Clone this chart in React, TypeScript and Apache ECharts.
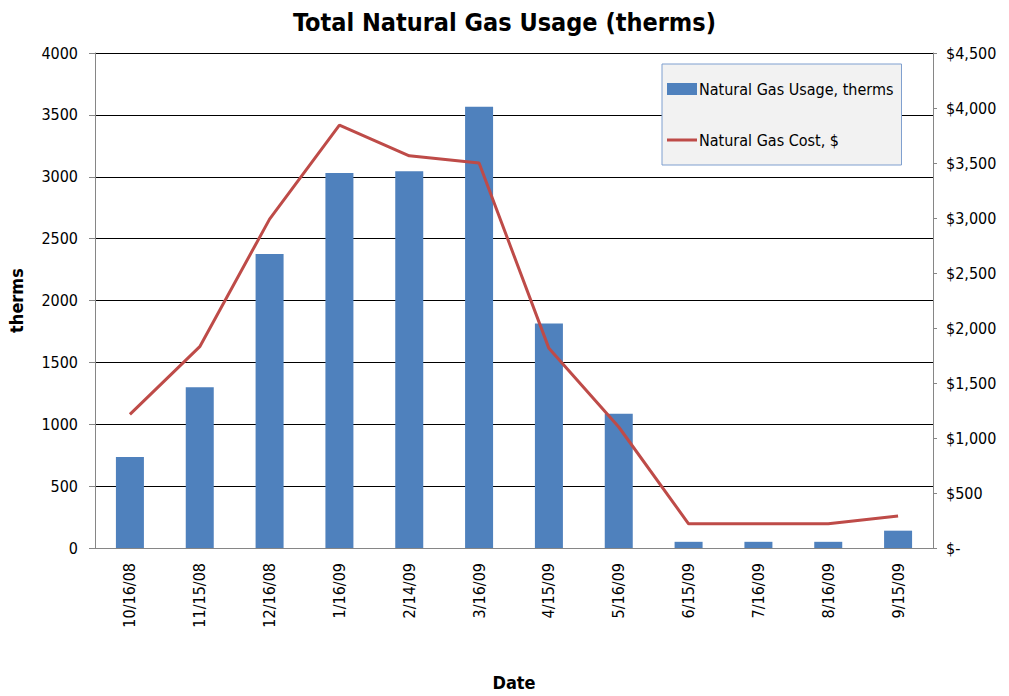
import React, { useEffect, useRef } from "react";
import * as echarts from "echarts";

const categories = ["10/16/08", "11/15/08", "12/16/08", "1/16/09", "2/14/09", "3/16/09", "4/15/09", "5/16/09", "6/15/09", "7/16/09", "8/16/09", "9/15/09"];
const usageTherms = [735, 1300, 2375, 3030, 3045, 3565, 1815, 1085, 50, 50, 50, 140];
const costDollars = [1215, 1830, 2990, 3845, 3565, 3500, 1815, 1100, 220, 220, 220, 290];

const FONT = "'Liberation Sans Narrow', 'DejaVu Sans Condensed', 'Open Sans', sans-serif";

export default function App() {
  const ref = useRef<HTMLDivElement>(null);
  useEffect(() => {
    document.body.style.margin = "0";
    const chart = echarts.init(ref.current!, null, { renderer: "svg" });
    chart.setOption({
      animation: false,
      backgroundColor: "#ffffff",
      textStyle: { fontFamily: FONT },
      title: {
        text: "Total Natural Gas Usage (therms)",
        left: "center",
        top: 5,
        textStyle: { fontFamily: FONT, fontSize: 25, fontWeight: "bold", color: "#000" },
      },
      legend: {
        orient: "vertical",
        left: 662,
        top: 64,
        width: 239,
        padding: [17, 8, 17, 5],
        itemGap: 35,
        backgroundColor: "#f2f2f2",
        borderColor: "#7f9fcf",
        borderWidth: 1,
        itemWidth: 30,
        itemHeight: 12,
        textStyle: { fontFamily: FONT, fontSize: 16, color: "#000", padding: [0, 0, 0, -3] },
        data: [
          { name: "Natural Gas Usage, therms", icon: "rect" },
          { name: "Natural Gas Cost, $", icon: "path://M0,0 L30,0 L30,3 L0,3 Z" },
        ],
      },
      grid: { left: 95, right: 76, top: 53, bottom: 148, outerBoundsMode: "none" },
      xAxis: {
        type: "category",
        data: categories,
        name: "Date",
        nameLocation: "middle",
        nameGap: 125,
        nameTextStyle: { fontFamily: FONT, fontSize: 18, fontWeight: "bold", color: "#000" },
        axisLine: { lineStyle: { color: "#868686", width: 1 } },
        axisTick: { show: false },
        axisLabel: { rotate: 90, margin: 15, fontSize: 16, color: "#000", fontFamily: FONT },
      },
      yAxis: [
        {
          type: "value",
          min: 0,
          max: 4000,
          interval: 500,
          name: "therms",
          nameLocation: "middle",
          nameGap: 70,
          nameTextStyle: { fontFamily: FONT, fontSize: 18, fontWeight: "bold", color: "#000" },
          axisLine: { show: true, lineStyle: { color: "#868686", width: 1 } },
          axisTick: { show: true, length: 6, lineStyle: { color: "#868686" } },
          axisLabel: { margin: 17, fontSize: 16, color: "#000", fontFamily: FONT, formatter: (v: number) => String(v) },
          splitLine: { show: true, lineStyle: { color: "#000", width: 1 } },
        },
        {
          type: "value",
          min: 0,
          max: 4500,
          interval: 500,
          position: "right",
          axisLine: { show: true, lineStyle: { color: "#868686", width: 1 } },
          axisTick: { show: true, length: 4, lineStyle: { color: "#868686" } },
          axisLabel: {
            margin: 13,
            fontSize: 16,
            color: "#000",
            fontFamily: FONT,
            formatter: (v: number) => (v === 0 ? "$-" : "$" + v.toLocaleString("en-US")),
          },
          splitLine: { show: false },
        },
      ],
      series: [
        {
          name: "Natural Gas Usage, therms",
          type: "bar",
          data: usageTherms,
          yAxisIndex: 0,
          barWidth: 28,
          itemStyle: { color: "#4f81bd" },
        },
        {
          name: "Natural Gas Cost, $",
          type: "line",
          data: costDollars,
          yAxisIndex: 1,
          symbol: "none",
          lineStyle: { color: "#be4b48", width: 3 },
          itemStyle: { color: "#be4b48" },
        },
      ],
    });
    return () => chart.dispose();
  }, []);
  return <div ref={ref} style={{ width: 1009, height: 696 }} />;
}
